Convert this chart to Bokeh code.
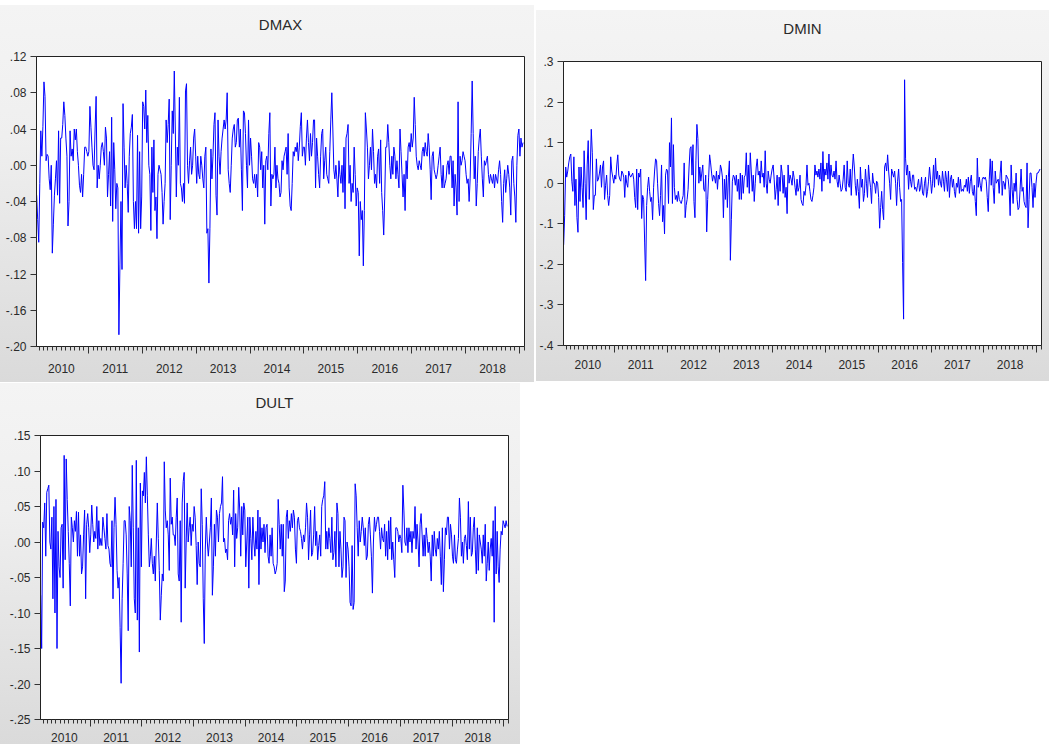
import datetime as dt
from bokeh.plotting import figure
from bokeh.models import LinearAxis, FixedTicker, Range1d, ColumnDataSource
from bokeh.layouts import row, column
from bokeh.embed import file_html
from bokeh.resources import INLINE

# ---------------- data (weekly observations, one list per calendar year) ----------------
YEARS = [2010, 2011, 2012, 2013, 2014, 2015, 2016, 2017, 2018, 2019]
YEAR_LABELS = ["2010", "2011", "2012", "2013", "2014", "2015", "2016", "2017", "2018"]

DMAX = [
    [-0.033, -0.06, -0.085, -0.02, 0.038, 0.01, 0.043, 0.092, 0.076, 0.005, 0.012, 0.01, -0.015, -0.027, 0.0,
     -0.097, -0.065, -0.033, -0.015, 0.005, -0.033, 0.038, -0.042, 0.03, 0.03, 0.045, 0.07, 0.055, 0.03, 0.01,
     -0.067, -0.04, 0.038, 0.01, 0.018, 0.005, 0.04, 0.028, 0.04, 0.015, 0.0, -0.022, -0.03, -0.01, -0.035,
     -0.01, 0.02, 0.02, 0.015, 0.01],
    [0.015, 0.065, 0.042, 0.02, 0.0, -0.005, 0.04, 0.076, -0.025, 0.0, -0.015, 0.0, 0.02, 0.025, 0.015, 0.0,
     0.042, 0.03, -0.035, -0.01, 0.015, -0.045, 0.053, -0.062, 0.025, -0.005, -0.048, -0.02, -0.025, -0.187,
     -0.11, -0.04, -0.115, 0.068, 0.02, -0.025, 0.0, -0.02, -0.052, 0.01, 0.035, 0.042, 0.056, -0.04, -0.07,
     -0.04, -0.07, 0.033, -0.075, 0.015, -0.07, -0.035],
    [0.07, 0.065, 0.04, 0.083, 0.025, 0.055, 0.0, -0.01, -0.072, 0.02, -0.03, 0.028, -0.05, -0.035, -0.081,
     -0.01, 0.0, -0.005, -0.01, -0.03, -0.065, -0.04, -0.02, 0.05, 0.025, 0.045, 0.073, -0.06, 0.0, 0.06, 0.035,
     0.104, 0.04, -0.035, 0.02, 0.0, 0.075, -0.02, -0.025, -0.04, -0.02, -0.042, 0.082, 0.09, 0.0, -0.02, 0.005,
     0.02, -0.01, 0.0, 0.03, 0.04, 0.01],
    [-0.02, 0.01, -0.01, -0.015, 0.01, 0.0, -0.015, -0.025, 0.01, 0.02, -0.075, -0.07, -0.13, -0.07, 0.018,
     -0.015, 0.01, 0.045, 0.058, -0.033, -0.055, 0.05, 0.01, -0.01, 0.015, 0.03, 0.04, 0.05, 0.04, 0.05, 0.08,
     -0.005, -0.02, -0.03, 0.0, 0.03, 0.04, 0.045, 0.02, 0.025, 0.05, 0.052, 0.02, 0.04, -0.005, -0.05, 0.06,
     0.058, 0.035, 0.0, -0.025, 0.05, 0.0],
    [0.03, 0.01, -0.015, -0.02, -0.01, -0.025, -0.01, -0.035, 0.025, 0.02, -0.005, 0.015, -0.025, 0.0, -0.065,
     0.005, 0.01, -0.005, 0.035, 0.058, -0.045, -0.01, -0.015, -0.01, 0.02, -0.025, 0.0, -0.015, -0.02, -0.035,
     -0.03, 0.005, -0.005, 0.01, 0.015, 0.02, -0.01, 0.035, -0.025, -0.045, -0.05, -0.02, 0.015, 0.01, 0.02,
     0.015, 0.025, 0.005, 0.02, 0.043, 0.058, 0.01, 0.02],
    [0.02, 0.0, 0.03, 0.05, 0.025, 0.005, 0.035, 0.01, 0.025, 0.05, 0.05, -0.025, 0.03, 0.01, -0.01, -0.025,
     0.01, 0.035, 0.04, -0.015, 0.005, 0.02, -0.01, -0.015, -0.02, 0.015, 0.05, 0.08, 0.04, -0.005, -0.015, 0.0,
     -0.015, -0.035, 0.005, -0.01, -0.02, 0.0, -0.03, 0.02, -0.048, 0.03, 0.035, 0.045, -0.02, 0.0, -0.04,
     -0.02, -0.03, 0.02, -0.01, -0.045, -0.025],
    [-0.03, -0.1, -0.04, -0.06, -0.05, -0.111, -0.05, 0.058, 0.04, 0.02, -0.015, 0.0, 0.02, -0.005, 0.04, 0.015,
     -0.02, -0.01, -0.025, 0.01, 0.018, -0.02, 0.028, -0.03, -0.05, -0.077, -0.035, 0.02, 0.02, 0.045, 0.025,
     0.0, -0.015, 0.01, -0.01, 0.02, 0.01, -0.015, 0.005, -0.01, -0.025, 0.04, 0.015, -0.01, -0.035, -0.01,
     -0.05, 0.005, -0.015, 0.02, 0.025, 0.015, 0.035],
    [0.02, 0.03, 0.075, 0.045, 0.01, 0.0, -0.005, 0.005, 0.0, -0.005, 0.015, 0.02, 0.01, 0.025, 0.015, 0.01,
     0.035, 0.02, -0.005, -0.038, 0.01, 0.015, -0.005, -0.01, -0.015, -0.01, 0.0, 0.01, 0.02, -0.01, -0.025,
     0.0, -0.025, -0.02, -0.015, 0.0, 0.005, -0.01, 0.01, 0.01, -0.025, 0.005, -0.045, -0.01, -0.025, -0.055,
     0.07, -0.04, 0.01, 0.0, 0.005, 0.015, 0.01, 0.005],
    [-0.01, -0.02, -0.015, -0.04, -0.015, 0.035, 0.093, 0.035, -0.015, 0.01, -0.045, -0.02, 0.015, 0.03, 0.04,
     0.01, -0.015, -0.035, 0.005, 0.0, 0.005, 0.01, -0.01, -0.02, -0.01, -0.015, -0.02, -0.01, -0.025, -0.01,
     -0.015, -0.02, -0.005, 0.005, -0.01, -0.04, -0.063, -0.02, -0.005, -0.03, -0.015, 0.0, -0.01, -0.025,
     -0.055, 0.005, 0.01, -0.02, -0.035, -0.063, 0.0, 0.033, 0.04],
    [0.01, 0.03, 0.02, 0.025],
]

DMIN = [
    [-0.152, -0.079, 0.04, 0.015, 0.03, 0.05, 0.065, 0.072, 0.005, -0.02, 0.065, -0.055, 0.01, -0.085, -0.121,
     0.04, -0.045, 0.04, -0.01, -0.06, 0.08, 0.0, -0.09, 0.045, 0.105, -0.04, 0.035, 0.133, 0.075, -0.065,
     -0.03, -0.03, 0.06, 0.005, 0.01, 0.025, 0.045, -0.01, 0.04, 0.055, -0.04, -0.005, 0.02, -0.03, -0.055,
     -0.03, 0.065, 0.03, 0.015, 0.0],
    [0.02, 0.01, 0.045, 0.07, 0.02, 0.01, 0.005, 0.03, 0.025, 0.015, -0.035, 0.02, 0.0, -0.01, 0.03, 0.02, 0.015,
     0.02, 0.025, 0.01, -0.035, -0.06, 0.035, -0.065, 0.025, 0.015, 0.035, -0.087, -0.03, -0.04, -0.145, -0.24,
     -0.055, -0.01, 0.015, -0.02, -0.045, -0.035, -0.09, -0.01, 0.03, 0.06, 0.055, 0.0, -0.05, -0.08, -0.03,
     0.045, -0.095, -0.055, -0.125, 0.02, 0.035],
    [0.03, -0.05, 0.1, 0.04, 0.161, -0.05, 0.095, -0.01, -0.04, -0.03, -0.045, -0.02, -0.04, -0.045, -0.05,
     -0.04, -0.03, 0.05, -0.085, -0.055, -0.04, -0.015, 0.04, 0.085, 0.09, 0.02, 0.095, -0.045, -0.085, 0.055,
     0.145, 0.11, 0.0, 0.04, 0.005, 0.025, 0.045, -0.015, -0.02, 0.02, -0.12, -0.04, 0.015, 0.07, 0.05, 0.025,
     0.005, 0.02, 0.015, 0.0, 0.03, -0.015, 0.02, 0.01],
    [0.045, 0.035, 0.015, -0.085, 0.01, -0.04, 0.02, -0.06, 0.015, 0.055, -0.19, -0.09, 0.005, 0.02, 0.015,
     -0.005, 0.02, -0.02, 0.01, -0.04, 0.025, -0.04, 0.02, -0.025, 0.015, 0.02, 0.075, -0.01, 0.045, -0.025,
     0.075, 0.03, -0.02, 0.02, -0.045, 0.0, 0.04, 0.06, 0.02, 0.03, 0.0, 0.055, 0.015, 0.025, -0.01, 0.08, 0.0,
     -0.025, 0.03, 0.01, 0.0, 0.02, 0.035],
    [0.045, 0.01, -0.04, -0.015, 0.02, -0.055, 0.015, -0.02, 0.045, 0.025, -0.025, 0.02, -0.035, -0.01, -0.075,
     0.045, 0.0, 0.02, 0.01, -0.005, 0.03, 0.015, -0.01, -0.03, 0.01, -0.02, -0.01, 0.02, -0.04, -0.05, -0.055,
     -0.02, -0.03, -0.005, 0.045, -0.005, 0.0, -0.02, -0.04, -0.045, -0.03, -0.01, 0.045, 0.02, 0.03, 0.015,
     0.035, 0.01, 0.05, -0.02, 0.078, 0.005, 0.035],
    [0.02, 0.05, 0.01, 0.072, 0.0, 0.045, 0.02, 0.015, 0.03, 0.01, 0.055, 0.005, -0.01, 0.02, 0.0, -0.02, -0.015,
     0.01, 0.045, -0.01, -0.02, 0.055, 0.0, -0.01, 0.035, -0.03, 0.03, 0.072, 0.04, -0.005, -0.03, 0.01, -0.02,
     -0.062, 0.04, -0.01, 0.01, -0.045, -0.025, 0.035, 0.0, -0.035, 0.045, 0.01, -0.01, -0.05, 0.025, 0.0, 0.0,
     -0.025, 0.005, 0.0],
    [-0.035, -0.111, -0.06, -0.02, -0.065, -0.09, 0.04, 0.05, 0.03, 0.07, 0.03, 0.0, -0.04, 0.035, 0.025, 0.015,
     0.03, 0.0, -0.055, 0.005, 0.035, -0.01, -0.045, -0.04, -0.195, -0.335, 0.255, 0.06, 0.02, 0.045, -0.015,
     0.03, 0.005, -0.01, 0.02, 0.02, -0.015, -0.01, -0.02, -0.005, 0.01, -0.02, -0.01, 0.015, -0.025, -0.03, 0.0,
     0.015, -0.035, -0.02, 0.005, 0.04, 0.01],
    [-0.025, 0.0, 0.045, -0.01, 0.062, 0.01, 0.03, -0.005, 0.02, 0.0, -0.01, 0.03, 0.005, -0.02, 0.03, 0.01,
     -0.02, 0.03, -0.035, 0.01, 0.02, -0.01, 0.01, -0.02, -0.035, 0.0, -0.01, 0.015, -0.025, 0.01, -0.02,
     -0.015, -0.02, -0.005, -0.01, 0.01, -0.02, 0.015, -0.025, 0.005, 0.02, -0.02, -0.03, -0.005, -0.045, -0.08,
     0.062, -0.01, 0.015, -0.005, -0.02, 0.01, 0.015],
    [0.01, 0.015, 0.005, -0.035, -0.07, 0.01, 0.06, -0.005, 0.055, -0.01, -0.05, 0.03, 0.0, 0.005, 0.01, -0.025,
     0.025, 0.055, -0.03, 0.005, 0.0, -0.015, 0.02, 0.015, 0.01, -0.015, -0.08, 0.045, -0.015, -0.05, 0.0,
     -0.02, 0.025, -0.04, -0.065, -0.06, -0.015, 0.035, -0.02, -0.01, -0.045, -0.055, -0.06, 0.05, -0.11, -0.04,
     0.025, 0.025, -0.01, -0.06, 0.0, -0.035, 0.0],
    [0.025, 0.025, 0.03, 0.035],
]

DULT = [
    [-0.075, -0.15, 0.028, 0.02, 0.055, -0.02, 0.07, 0.075, 0.08, 0.0, -0.01, 0.035, -0.08, 0.05, -0.1, 0.06,
     -0.15, 0.015, -0.035, -0.05, 0.02, 0.025, -0.065, 0.122, -0.025, 0.117, 0.06, 0.015, -0.03, -0.09, 0.035,
     0.02, 0.0, 0.03, 0.015, 0.043, -0.02, 0.042, -0.02, 0.01, -0.045, -0.035, 0.01, 0.045, -0.08, 0.025, 0.04,
     0.02, -0.015],
    [0.01, 0.052, 0.025, 0.0, 0.015, 0.005, 0.05, -0.01, 0.03, -0.005, 0.005, -0.005, 0.035, 0.02, 0.005, -0.01,
     0.04, -0.005, -0.01, -0.03, -0.035, 0.03, -0.08, 0.02, 0.063, 0.025, -0.04, -0.065, -0.05, -0.12, -0.199,
     -0.08, -0.03, 0.03, 0.03, 0.01, -0.045, -0.125, 0.05, 0.03, -0.035, 0.108, 0.02, -0.08, -0.1, 0.115, -0.11,
     0.02, -0.155, 0.083, -0.035],
    [0.072, 0.065, 0.098, 0.055, 0.12, 0.065, 0.01, -0.035, -0.02, 0.005, -0.03, -0.045, -0.02, -0.055, 0.0,
     0.055, 0.005, -0.04, -0.11, -0.075, -0.045, -0.055, 0.113, 0.045, 0.02, 0.03, 0.01, -0.04, 0.09, 0.025,
     0.035, 0.01, 0.01, -0.005, 0.035, 0.062, -0.045, -0.055, 0.03, -0.113, 0.055, 0.085, 0.098, -0.065, 0.0,
     0.055, 0.0, 0.02, 0.035, -0.005, 0.025, 0.015],
    [0.05, 0.035, -0.005, -0.06, 0.0, -0.03, -0.035, 0.075, 0.025, -0.08, -0.143, -0.01, 0.035, 0.0, -0.02, 0.0,
     0.02, 0.062, -0.075, -0.035, 0.025, -0.02, 0.045, 0.035, 0.0, 0.04, 0.05, 0.055, 0.092, 0.0, 0.005, -0.015,
     -0.01, -0.025, 0.03, 0.04, 0.025, 0.035, 0.01, 0.073, -0.035, 0.04, 0.005, 0.02, 0.077, 0.045, -0.02, 0.05,
     0.01, 0.055, 0.045],
    [-0.035, 0.0, 0.035, -0.065, 0.035, 0.005, -0.025, 0.035, 0.0, -0.02, 0.015, -0.01, 0.045, -0.06, 0.035,
     -0.01, 0.02, 0.0, 0.025, -0.015, 0.02, 0.025, -0.02, -0.03, 0.01, -0.02, 0.02, -0.03, -0.035, -0.045,
     -0.04, -0.03, 0.06, 0.025, -0.01, 0.025, -0.02, 0.025, -0.07, -0.055, 0.035, 0.045, 0.005, 0.03, 0.015,
     0.04, 0.02, 0.045, 0.035, -0.01, -0.03],
    [0.03, 0.035, 0.02, 0.015, 0.005, -0.01, 0.01, 0.0, 0.02, 0.055, 0.035, -0.025, 0.01, 0.045, -0.02, -0.015,
     0.01, 0.05, -0.005, 0.015, -0.025, -0.005, 0.01, -0.02, 0.05, 0.06, 0.065, 0.085, -0.01, 0.015, -0.01, 0.02,
     0.005, -0.015, 0.035, -0.025, -0.015, 0.015, -0.035, 0.055, 0.04, -0.035, 0.015, -0.01, -0.05, -0.035,
     0.035, 0.03, -0.05, 0.0, -0.01],
    [-0.035, -0.085, -0.09, -0.005, -0.095, -0.085, 0.082, 0.065, 0.02, -0.02, 0.03, 0.0, 0.015, 0.035, 0.02,
     -0.005, 0.02, -0.025, -0.02, 0.025, 0.035, 0.01, -0.02, -0.072, 0.0, 0.035, 0.015, 0.025, 0.035, 0.035,
     0.015, -0.01, 0.02, 0.005, 0.0, 0.025, -0.02, 0.015, -0.025, 0.03, -0.01, 0.035, -0.025, 0.0, -0.025,
     -0.05, 0.02, 0.02, 0.015, 0.0, 0.01],
    [0.005, -0.015, 0.08, 0.045, 0.0, -0.005, 0.02, -0.015, 0.02, 0.0, 0.015, -0.015, 0.015, 0.005, 0.05,
     -0.01, 0.025, 0.0, -0.035, 0.025, 0.04, 0.01, -0.02, 0.01, -0.02, 0.02, 0.005, -0.015, 0.0, -0.02, -0.055,
     0.01, -0.02, 0.015, -0.01, -0.02, 0.005, -0.01, 0.015, -0.02, -0.06, 0.02, -0.07, -0.025, 0.02, 0.01,
     0.035, 0.035, -0.01, 0.025, 0.01],
    [-0.02, -0.03, 0.01, -0.025, -0.03, -0.01, 0.005, 0.062, 0.035, -0.02, 0.0, -0.03, 0.005, 0.01, -0.005,
     -0.025, 0.057, -0.01, 0.035, -0.02, -0.015, 0.02, 0.035, -0.01, -0.045, 0.02, -0.04, 0.01, 0.0, -0.01,
     -0.03, 0.01, -0.02, 0.025, -0.055, -0.03, 0.0, -0.04, -0.01, 0.005, -0.02, 0.03, -0.113, 0.05, -0.045,
     0.015, -0.035, -0.057, -0.01, 0.015, 0.01, 0.03],
    [0.025, 0.02, 0.03, 0.022],
]

DMAX_TICKS = [-0.20, -0.16, -0.12, -0.08, -0.04, 0.00, 0.04, 0.08, 0.12]
DMAX_TICK_LABELS = ["-.20", "-.16", "-.12", "-.08", "-.04", ".00", ".04", ".08", ".12"]
DMIN_TICKS = [-0.4, -0.3, -0.2, -0.1, 0.0, 0.1, 0.2, 0.3]
DMIN_TICK_LABELS = ["-.4", "-.3", "-.2", "-.1", ".0", ".1", ".2", ".3"]
DULT_TICKS = [-0.25, -0.20, -0.15, -0.10, -0.05, 0.00, 0.05, 0.10, 0.15]
DULT_TICK_LABELS = ["-.25", "-.20", "-.15", "-.10", "-.05", ".00", ".05", ".10", ".15"]

# ---------------- helpers ----------------
EPOCH = dt.datetime(1970, 1, 1)
FONT = "Liberation Sans"
TXT = "#2a2a2a"


def ms(d):
    return (d - EPOCH).total_seconds() * 1000.0


def chunk_dates(year, n):
    start = dt.datetime(2010, 1, 15) if year == 2010 else dt.datetime(year, 1, 4)
    end = dt.datetime(2019, 1, 25) if year == 2019 else dt.datetime(year, 12, 28)
    step = (end - start) / (n - 1)
    return [ms(start + step * i) for i in range(n)]


def series_xy(chunks):
    xs, ys = [], []
    for year, vals in zip(YEARS, chunks):
        xs += chunk_dates(year, len(vals))
        ys += vals
    return xs, ys


X0 = ms(dt.datetime(2010, 1, 14))
X1 = ms(dt.datetime(2019, 2, 4))
XMID = (X0 + X1) / 2.0
YEAR_STARTS = [ms(dt.datetime(y, 1, 1)) for y in range(2010, 2020)]
MONTH_STARTS = [ms(dt.datetime(y, m, 1)) for y in range(2010, 2020) for m in range(2, 13)]
MID_YEARS = [ms(dt.datetime(int(y), 7, 2)) for y in YEAR_LABELS]


def make_panel(name, chunks, ticks, tick_labels, width, height, ml, mt, mr, mb,
               xlab_standoff, top_margin, title_gap):
    xs, ys = series_xy(chunks)
    src = ColumnDataSource(dict(x=xs, y=ys))
    p = figure(width=width, height=height, output_backend="svg", toolbar_location=None,
               x_axis_type=None, y_axis_type=None,
               x_range=Range1d(X0, X1), y_range=Range1d(ticks[0], ticks[-1]),
               min_border_left=ml, min_border_top=mt, min_border_right=mr, min_border_bottom=mb)
    p.border_fill_color = None
    p.background_fill_color = "white"
    p.outline_line_color = "#222222"
    p.outline_line_width = 1
    p.grid.visible = False
    p.styles = {"background": "linear-gradient(to bottom, #f4f4f4 0%, #efefef 35%, #dadada 100%)"}
    p.margin = (top_margin, 0, 0, 0)

    p.title.text = name
    p.title.align = "center"
    p.title.text_font = FONT
    p.title.text_font_size = "15px"
    p.title.text_font_style = "normal"
    p.title.text_color = TXT
    p.title.standoff = 0

    # invisible spacer between the frame and the title
    spacer = LinearAxis(ticker=FixedTicker(ticks=[XMID], minor_ticks=[]),
                        major_label_overrides={XMID: ""},
                        major_tick_out=title_gap, major_tick_in=0, minor_tick_out=0, minor_tick_in=0,
                        major_label_standoff=0, major_label_text_font_size="0px",
                        axis_line_color=None, major_tick_line_color=None, minor_tick_line_color=None)
    p.add_layout(spacer, "above")

    ay = LinearAxis(ticker=FixedTicker(ticks=ticks, minor_ticks=[]),
                    major_label_overrides=dict(zip(ticks, tick_labels)),
                    major_tick_out=6, major_tick_in=0, minor_tick_out=0, minor_tick_in=0,
                    major_label_standoff=4, axis_line_color="#222222",
                    major_tick_line_color="#333333",
                    major_label_text_font=FONT, major_label_text_font_size="12px",
                    major_label_text_color=TXT)
    p.add_layout(ay, "left")

    ax1 = LinearAxis(ticker=FixedTicker(ticks=YEAR_STARTS, minor_ticks=MONTH_STARTS),
                     major_label_overrides={t: "" for t in YEAR_STARTS},
                     major_tick_out=7, major_tick_in=0, minor_tick_out=4, minor_tick_in=0,
                     major_label_standoff=0, major_label_text_font_size="0px",
                     axis_line_color="#222222", major_tick_line_color="#333333",
                     minor_tick_line_color="#333333")
    p.add_layout(ax1, "below")

    ax2 = LinearAxis(ticker=FixedTicker(ticks=MID_YEARS, minor_ticks=[]),
                     major_label_overrides=dict(zip(MID_YEARS, YEAR_LABELS)),
                     major_tick_out=0, major_tick_in=0, minor_tick_out=0, minor_tick_in=0,
                     axis_line_color=None, major_tick_line_color=None, minor_tick_line_color=None,
                     major_label_standoff=xlab_standoff,
                     major_label_text_font=FONT, major_label_text_font_size="12px",
                     major_label_text_color=TXT)
    p.add_layout(ax2, "below")

    p.line("x", "y", source=src, line_color="#0000ff", line_width=1)
    return p


p1 = make_panel("DMAX", DMAX, DMAX_TICKS, DMAX_TICK_LABELS, 534, 377, 36, 49, 10, 36, 10, 5, 24)
p2 = make_panel("DMIN", DMIN, DMIN_TICKS, DMIN_TICK_LABELS, 513, 371, 25, 51, 8, 31, 7, 10, 25)
p3 = make_panel("DULT", DULT, DULT_TICKS, DULT_TICK_LABELS, 520, 361, 40, 52, 12, 25, 6, 0, 25)

layout = column(row(p1, p2, spacing=2), p3, spacing=1)
open("out.html", "w").write(file_html(layout, INLINE))
